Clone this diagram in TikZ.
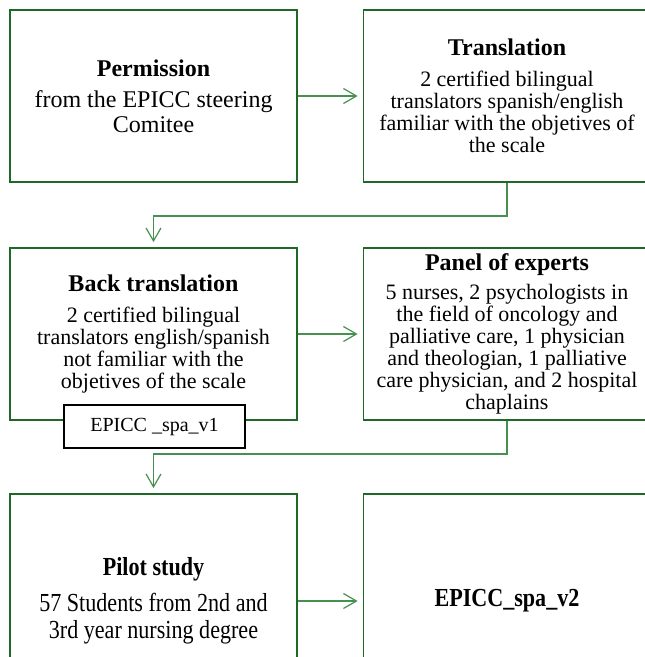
\documentclass[tikz,border=0pt]{standalone}
\usepackage{fontspec}
\setmainfont{Liberation Serif}
\newfontfamily\narrowserif[FakeStretch=0.85]{Liberation Serif}
\usetikzlibrary{arrows.meta,positioning}
\definecolor{boxgreen}{RGB}{30,104,40}
\definecolor{linegreen}{RGB}{70,145,80}
\tikzset{
  stage/.style={draw=boxgreen,line width=1.8pt,minimum width=287pt,minimum height=172pt,
    align=center,inner sep=0pt,font=\fontsize{22}{22}\selectfont},
  tallstage/.style={stage,minimum height=214pt,font=\narrowserif\fontsize{26}{27}\selectfont},
  tag/.style={draw=black,line width=1.5pt,fill=white,minimum width=181pt,minimum height=43pt,
    inner sep=0pt,font=\fontsize{20}{22}\selectfont},
  conn/.style={draw=linegreen,line width=1.2pt,-{Straight Barb[length=13pt,width=15pt]},shorten >=5pt},
}
\newcommand{\ttl}[1]{{\fontsize{24}{24}\selectfont\textbf{#1}}}
\begin{document}
\begin{tikzpicture}[x=1pt,y=-1pt]
\useasboundingbox (0,0) rectangle (645,657);
\clip (0,0) rectangle (645,657);
% row 1
\node[stage,font=\fontsize{24}{25}\selectfont] (perm) at (153.5,96) {\ttl{Permission}\\[6pt]
  from the EPICC steering\\Comitee};
\node[stage] (transl) at (507,96) {\ttl{Translation}\\[9pt]
  2 certified bilingual\\translators spanish/english\\familiar with the objetives of\\the scale};
% row 2
\node[stage] (backtr) at (153.5,334) {\ttl{Back translation}\\[9pt]
  2 certified bilingual\\translators english/spanish\\not familiar with the\\objetives of the scale};
\node[stage] (panel) at (507,334) {\ttl{Panel of experts}\\[7pt]
  5 nurses, 2 psychologists in\\the field of oncology and\\palliative care, 1 physician\\and theologian, 1 palliative\\care physician, and 2 hospital\\chaplains};
\node[tag] (spav1) at (154.5,426.5) {EPICC \_spa\_v1};
% row 3
\node[tallstage] (pilot) at (153.5,601) {\textbf{Pilot study}\\[9pt]
  57 Students from 2nd and\\3rd year nursing degree};
\node[tallstage] (spav2) at (507,601) {\textbf{EPICC\_spa\_v2}};
% connectors
\draw[conn] (perm) -- (transl);
\draw[conn] (transl.south) -- ++(0,33) -| (backtr.north);
\draw[conn] (backtr) -- (panel);
\draw[conn] (panel.south) -- ++(0,33) -| (pilot.north);
\draw[conn] (pilot) -- (spav2);
\end{tikzpicture}
\end{document}
